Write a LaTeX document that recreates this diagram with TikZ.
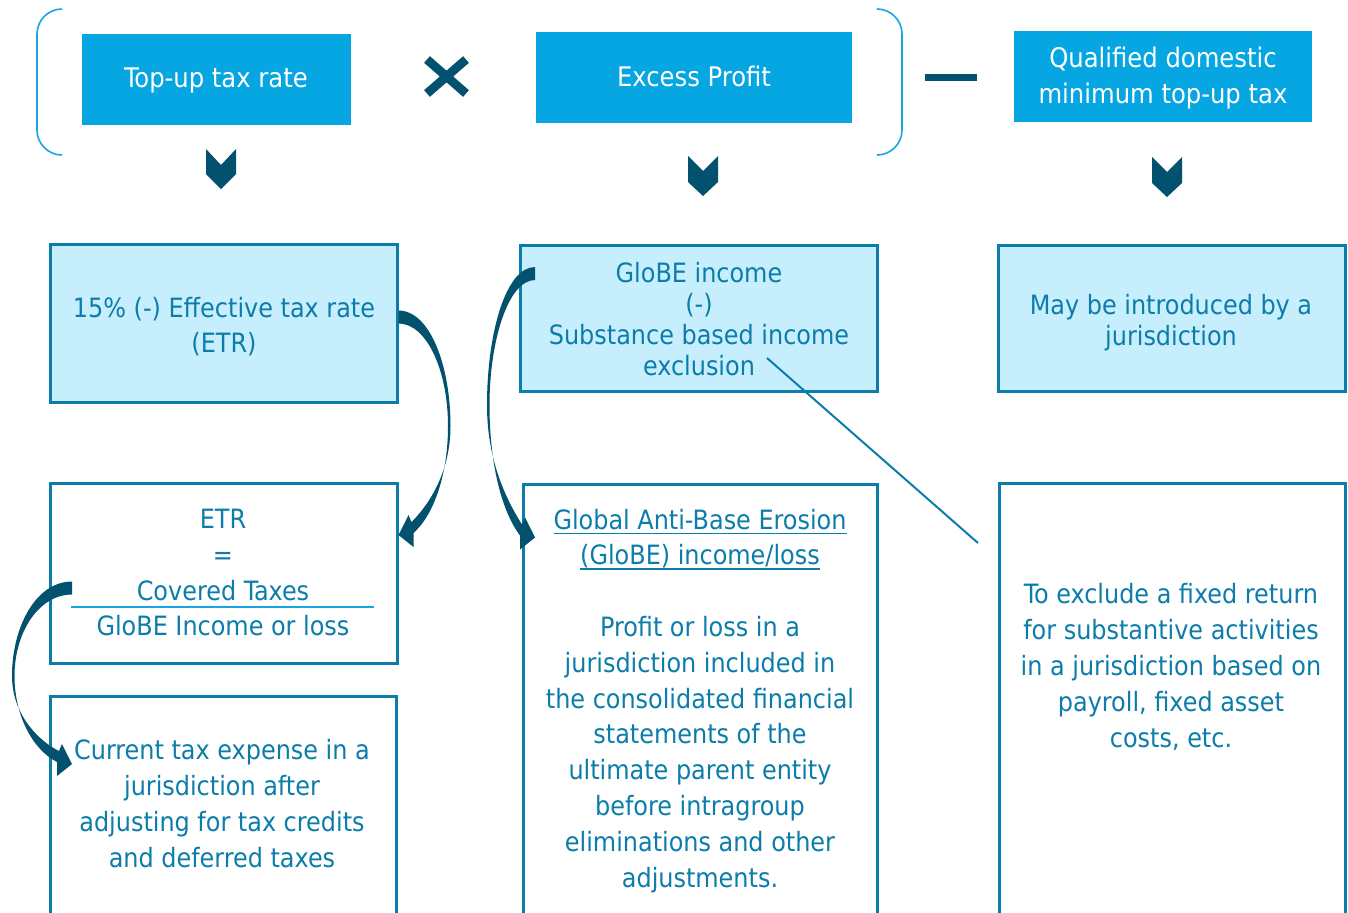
\documentclass[tikz,border=0pt]{standalone}
\usepackage{fontspec}
\setmainfont{DejaVu Sans Condensed}
\usetikzlibrary{fit,calc}
\newcommand\myul[1]{\setbox0\hbox{#1}\rlap{\rule[-2.6pt]{\wd0}{0.85pt}}\box0}
\definecolor{topblue}{RGB}{5,166,226}
\definecolor{darkteal}{RGB}{2,81,110}
\definecolor{lightfill}{RGB}{199,238,253}
\definecolor{bord}{RGB}{12,125,170}
\definecolor{brk}{RGB}{27,164,226}
\tikzset{
  topbox/.style={fill=topblue, draw=none, inner sep=0pt},
  lbox/.style={fill=lightfill, draw=bord, line width=1.5pt, inner sep=0pt},
  wbox/.style={fill=white, draw=bord, line width=1.5pt, inner sep=0pt},
  txt/.style={text=bord, align=center, inner sep=0pt, anchor=base, font=\fontsize{13.3}{17.9}\selectfont},
  ttxt/.style={txt, text=white, font=\fontsize{13.5}{18}\selectfont},
  ctxt/.style={txt, font=\fontsize{13.3}{15.5}\selectfont},
  chev/.style={fill=darkteal, draw=none},
  pics/tarr/.style n args={2}{code={
    \fill[darkteal] (0,-6.5) .. controls ({0.6*#1},-6.5) and (#1,{0.22*#2}) .. (#1,{0.5*#2})
      .. controls (#1,{0.72*#2}) and ({0.55*#1},{0.87*#2}) .. (13,{#2-13})
      -- (10,{#2-20}) -- (0,#2) -- (15,{#2+12}) -- (15,{#2-2})
      .. controls ({0.55*#1+7},{0.87*#2+8}) and ({#1-2.5},{0.72*#2}) .. ({#1-2.5},{0.5*#2})
      .. controls ({#1-2.5},{0.25*#2}) and ({0.55*#1},6.5) .. (0,6.5) -- cycle;
  }}
}
\begin{document}
\begin{tikzpicture}[x=0.5pt,y=-0.5pt]
\useasboundingbox (0,0) rectangle (1348,912);
\clip (0,0) rectangle (1348,912);
% brackets
\draw[brk, line width=0.8pt, rounded corners=12.5pt] (62,9) -- (37,9) -- (37,155) -- (62,155);
\draw[brk, line width=0.8pt, rounded corners=12.5pt] (878,9) -- (902,9) -- (902,155) -- (878,155);
% top boxes
\node[topbox, fit={(82,34) (351,125)}] (B1) {};
\node[ttxt] (T1) at (216,87) {Top-up tax rate};
\node[topbox, fit={(536,32) (852,123)}] (B2) {};
\node[ttxt] (T2) at (694,86) {Excess Profit};
\node[topbox, fit={(1014,31) (1312,122)}] (B3) {};
\node[ttxt] (T3) at (1163,103) {Qualified domestic\\minimum top-up tax};
% operators
\coordinate (xa) at (427,59.5); \coordinate (xb) at (466,93.5);
\coordinate (xc) at (427,93.5); \coordinate (xd) at (466,59.5);
\draw[darkteal, line width=4.4pt] (xa) -- (xb) (xc) -- (xd);
\fill[darkteal] (925,74) rectangle (977,81);
% chevrons
\fill[chev] (206,149) -- (221,165) -- (236,149) -- (236,174) -- (221,189) -- (206,174) -- cycle;
\fill[chev] (688,156) -- (703,171) -- (718,156) -- (718,182) -- (703,196) -- (688,182) -- cycle;
\fill[chev] (1152,157) -- (1167,172) -- (1182,157) -- (1182,183) -- (1167,197) -- (1152,183) -- cycle;
% second row
\node[lbox, fit={(50,244) (397,402)}] (L1) {};
\node[txt, font=\fontsize{13.3}{17.5}\selectfont] (L1t) at (224,352) {15\% (-) Effective tax rate\\(ETR)};
\node[lbox, fit={(520,245) (877,391)}] (M1) {};
\node[ctxt] (M1t) at (699,375) {GloBE income\\(-)\\Substance based income\\exclusion};
\node[lbox, fit={(998,245) (1345,391)}] (R1) {};
\node[ctxt] (R1t) at (1171,345) {May be introduced by a\\jurisdiction};
% third row
\node[wbox, fit={(50,483) (397,663)}] (L2) {};
\node[txt] (L2t) at (223,600) {ETR\\=\\Covered Taxes};
\node[txt] (L2b) at (223,635) {GloBE Income or loss};
\coordinate (fa) at (71,607); \coordinate (fb) at (374,607);
\draw[brk, line width=1.2pt] (fa) -- (fb);
\node[wbox, fit={(50,696) (396,940)}] (L3) {};
\node[txt] (L3t) at (222,867) {Current tax expense in a\\jurisdiction after\\adjusting for tax credits\\and deferred taxes};
\node[wbox, fit={(523,484) (877,940)}] (M2) {};
\node[txt] (M2t) at (700,887) {\myul{Global Anti-Base Erosion}\\\myul{(GloBE) income/loss}\\[17.9pt]Profit or loss in a\\jurisdiction included in\\the consolidated financial\\statements of the\\ultimate parent entity\\before intragroup\\eliminations and other\\adjustments.};
\node[wbox, fit={(999,483) (1345,940)}] (R2) {};
\node[txt] (R2t) at (1171,747) {To exclude a fixed return\\for substantive activities\\in a jurisdiction based on\\payroll, fixed asset\\costs, etc.};
% diagonal callout
\coordinate (da) at (767,358); \coordinate (db) at (978,543);
\draw[bord, line width=1pt] (da) -- (db);
% curved arrows
\pic at ($(L1.east)+(0,-6)$) {tarr={52}{218}};
\pic[xscale=-1] at (535,273.5) {tarr={48}{264}};
\pic[xscale=-1] at (72,588) {tarr={60}{176}};
\end{tikzpicture}
\end{document}
